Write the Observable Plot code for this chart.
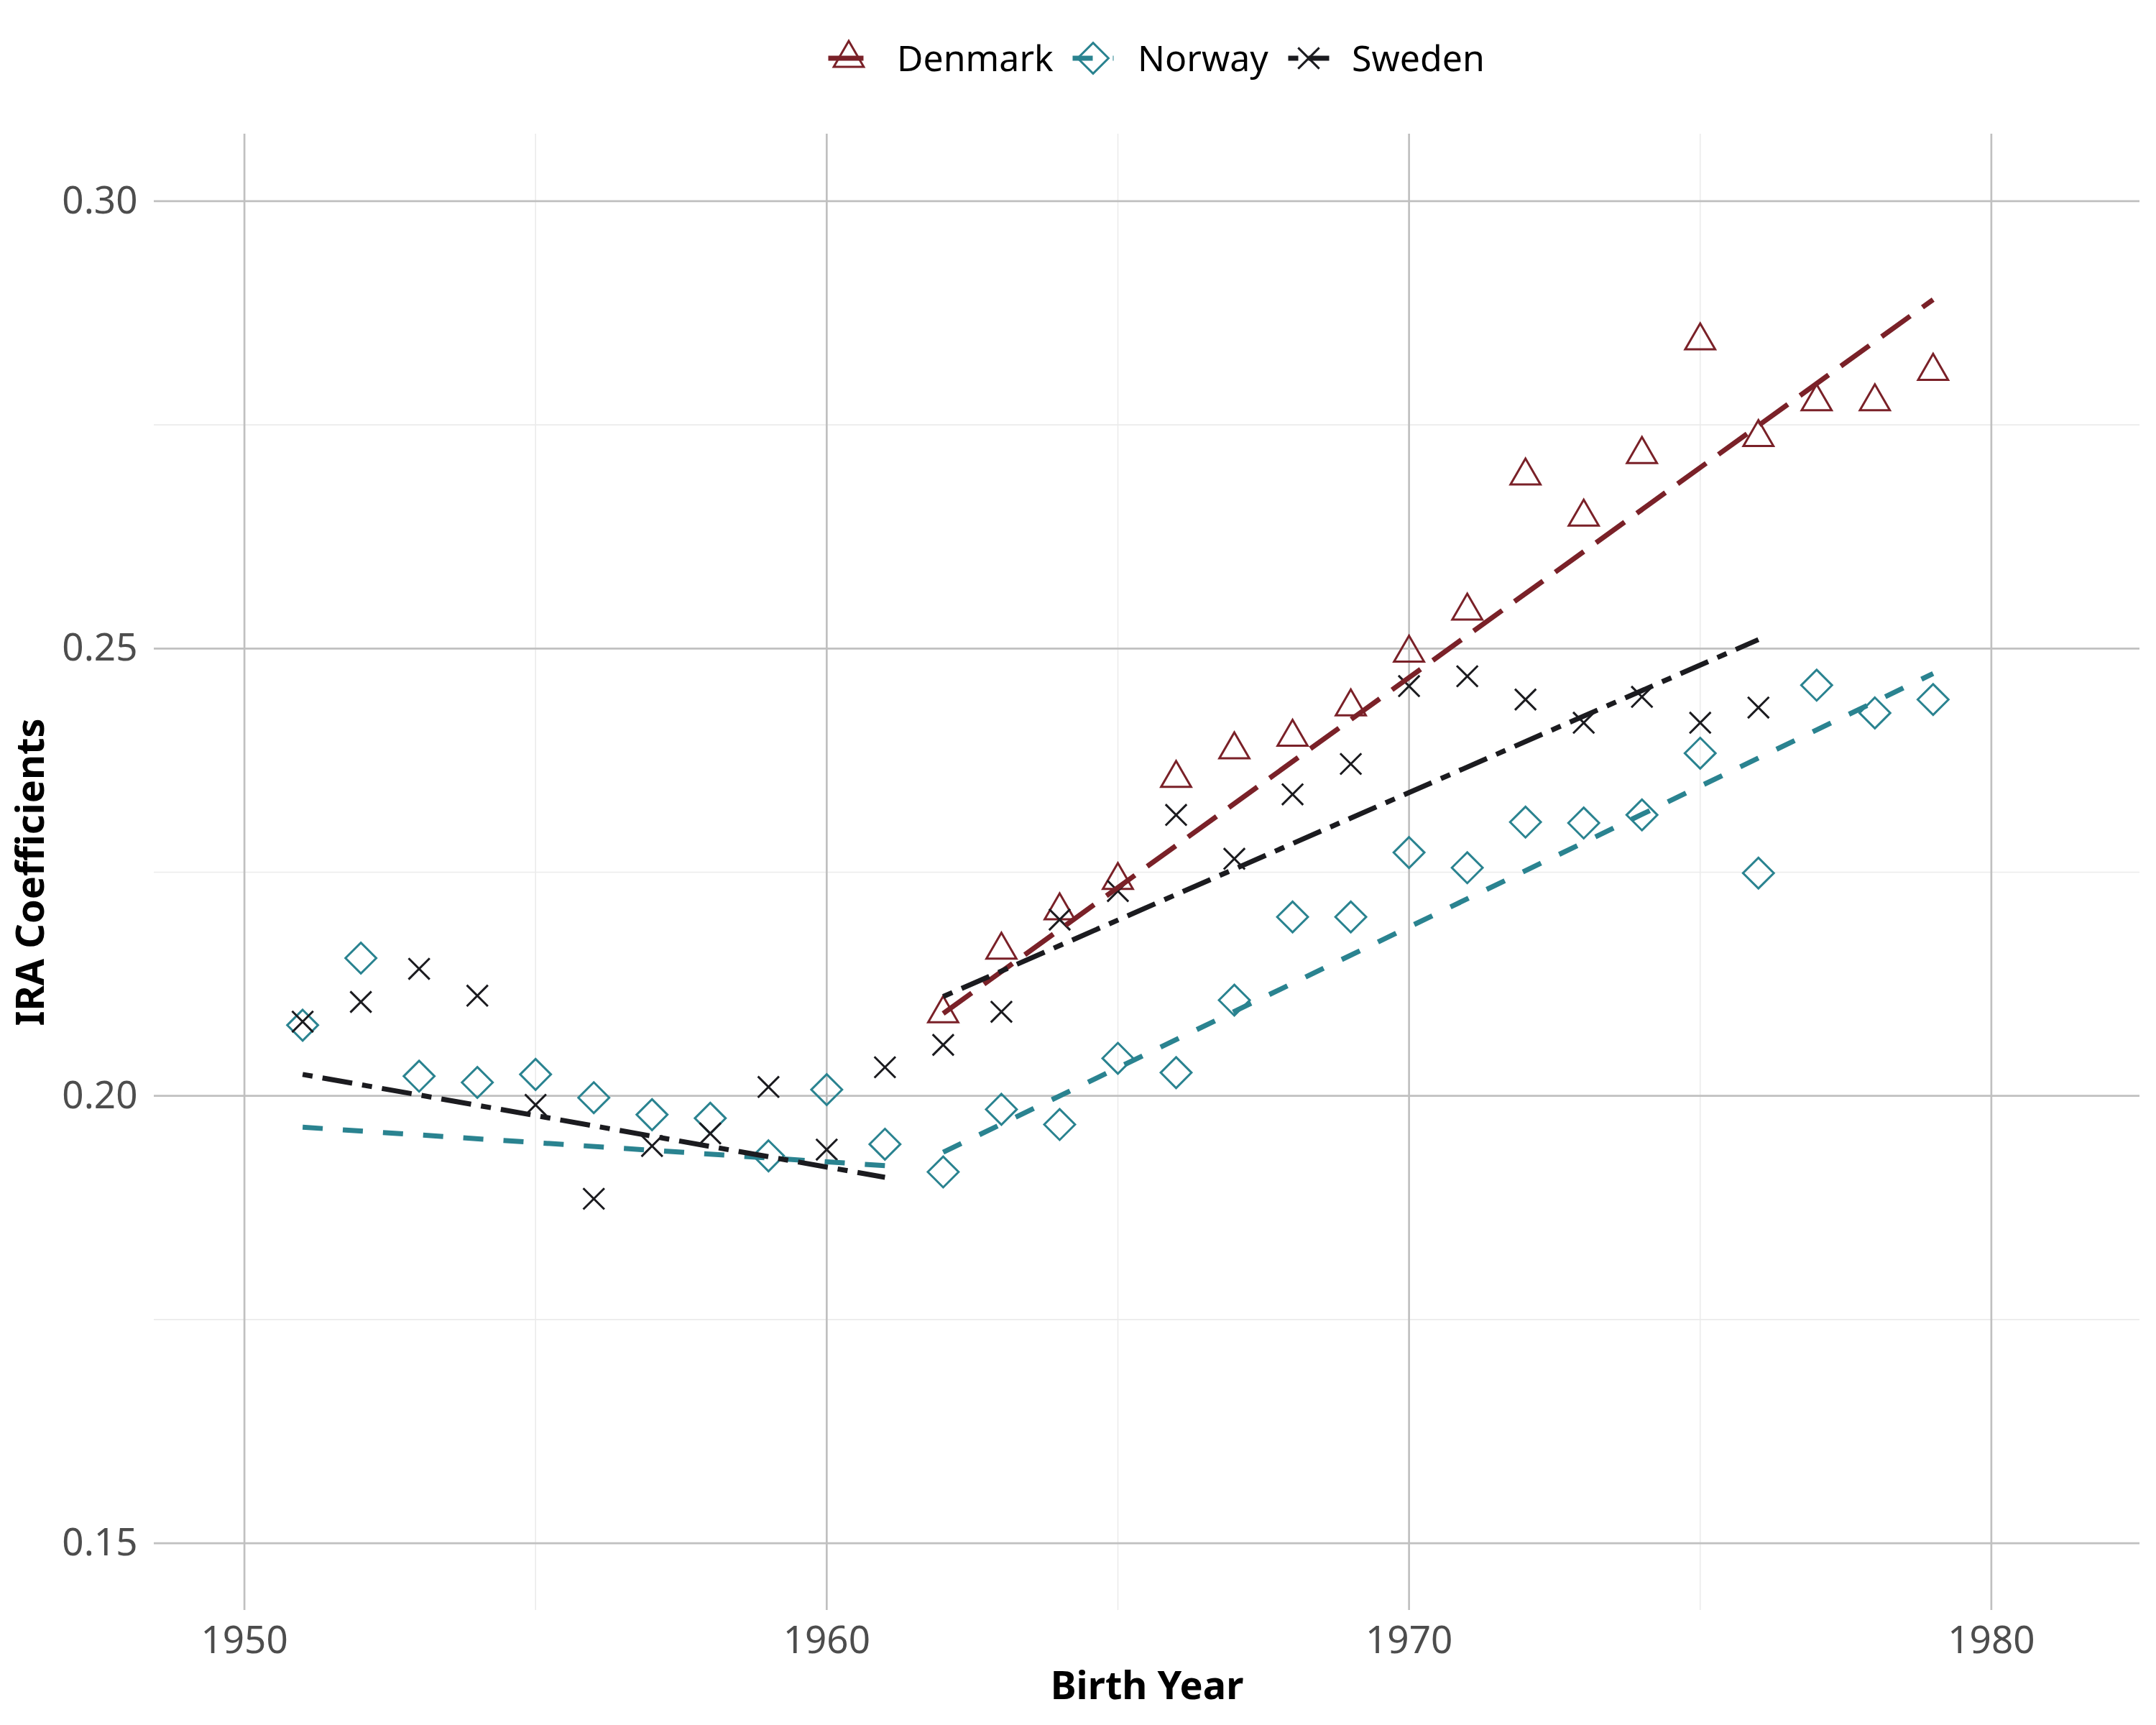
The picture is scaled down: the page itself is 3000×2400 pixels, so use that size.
<!DOCTYPE html>
<html>
<head>
<meta charset="utf-8">
<script src="https://cdn.jsdelivr.net/npm/d3@7"></script>
<script src="https://cdn.jsdelivr.net/npm/@observablehq/plot@0.6"></script>
<style>
  html, body { margin: 0; padding: 0; background: #ffffff; }
  #wrap { position: relative; width: 3000px; height: 2400px; font-family: "Noto Sans", sans-serif; }
  #legend { position: absolute; left: 0; top: 0; }
</style>
</head>
<body>
<div id="wrap"></div>
<script>
// ---------- data ----------
const countries = ["Denmark", "Norway", "Sweden"];
const countryColors = ["#7a2128", "#2a8390", "#1b1b1f"];

const denmarkYears = [1962, 1963, 1964, 1965, 1966, 1967, 1968, 1969, 1970, 1971, 1972, 1973, 1974, 1975, 1976, 1977, 1978, 1979];
const denmarkIRA   = [0.2092, 0.2163, 0.2207, 0.2241, 0.2355, 0.2387, 0.2401, 0.2435, 0.2495, 0.2542, 0.2693, 0.2647, 0.2717, 0.2844, 0.2736, 0.2776, 0.2776, 0.2810];

const norwayYears = [1951, 1952, 1953, 1954, 1955, 1956, 1957, 1958, 1959, 1960, 1961, 1962, 1963, 1964, 1965, 1966, 1967, 1968, 1969, 1970, 1971, 1972, 1973, 1974, 1975, 1976, 1977, 1978, 1979];
const norwayIRA   = [0.2079, 0.2154, 0.2022, 0.2015, 0.2024, 0.1998, 0.1979, 0.1975, 0.1933, 0.2007, 0.1946, 0.1915, 0.1985, 0.1968, 0.2042, 0.2026, 0.2107, 0.2200, 0.2200, 0.2272, 0.2255, 0.2306, 0.2305, 0.2314, 0.2383, 0.2249, 0.2459, 0.2428, 0.2443];

const swedenYears = [1951, 1952, 1953, 1954, 1955, 1956, 1957, 1958, 1959, 1960, 1961, 1962, 1963, 1964, 1965, 1966, 1967, 1968, 1969, 1970, 1971, 1972, 1973, 1974, 1975, 1976];
const swedenIRA   = [0.2083, 0.2105, 0.2142, 0.2112, 0.1990, 0.1885, 0.1944, 0.1958, 0.2010, 0.1940, 0.2032, 0.2057, 0.2094, 0.2197, 0.2229, 0.2314, 0.2265, 0.2337, 0.2371, 0.2458, 0.2469, 0.2443, 0.2417, 0.2446, 0.2417, 0.2434];

// fitted trend lines (pre / post 1962)
const denmarkFitYears  = [1962, 1979];
const denmarkFit       = [0.2092, 0.2890];
const denmarkFitPeriod = ["post", "post"];
const norwayFitYears   = [1951, 1961, 1962, 1979];
const norwayFit        = [0.1965, 0.1922, 0.1937, 0.2472];
const norwayFitPeriod  = ["pre", "pre", "post", "post"];
const swedenFitYears   = [1951, 1961, 1962, 1976];
const swedenFit        = [0.2024, 0.1909, 0.2111, 0.2510];
const swedenFitPeriod  = ["pre", "pre", "post", "post"];

const xTicks = [1950, 1960, 1970, 1980];
const xMinor = [1955, 1965, 1975];
const yTicks = [0.15, 0.20, 0.25, 0.30];
const yMinor = [0.175, 0.225, 0.275];
const xTitle = "Birth Year";
const yTitle = "IRA Coefficients";

// ---------- styling ----------
const symbols = ["triangle2", "diamond2", "times"];
const d3Symbols = [d3.symbolTriangle2, d3.symbolDiamond2, d3.symbolTimes];
const radii = [19.9, 19.3, 13.4];
const dashes = ["49,21", "28,28", "14,14,42,14"];
const LW = 7;

const pts = (years, vals) => years.map((y, i) => ({year: y, value: vals[i]}));
const fitRows = (years, vals, per) => years.map((y, i) => ({year: y, value: vals[i], period: per[i]}));

const pointSets = [pts(denmarkYears, denmarkIRA), pts(norwayYears, norwayIRA), pts(swedenYears, swedenIRA)];
const fitSets = [
  fitRows(denmarkFitYears, denmarkFit, denmarkFitPeriod),
  fitRows(norwayFitYears, norwayFit, norwayFitPeriod),
  fitRows(swedenFitYears, swedenFit, swedenFitPeriod)
];

const marks = [
  Plot.ruleX(xMinor, {stroke: "#ebebeb", strokeWidth: 1.6}),
  Plot.ruleY(yMinor, {stroke: "#ebebeb", strokeWidth: 1.6}),
  Plot.ruleX(xTicks, {stroke: "#c0c0c0", strokeWidth: 2.7}),
  Plot.ruleY(yTicks, {stroke: "#c0c0c0", strokeWidth: 2.7}),
  Plot.axisX(xTicks, {tickSize: 0, tickPadding: 22, fontSize: 53, fill: "#4d4d4d", tickFormat: d3.format("d"), label: null}),
  Plot.axisY(yTicks, {tickSize: 0, tickPadding: 23, fontSize: 53, fill: "#4d4d4d", tickFormat: d3.format(".2f"), label: null}),
  Plot.text([xTitle], {frameAnchor: "bottom", dy: 123, lineAnchor: "bottom", textAnchor: "middle", fontSize: 54, fontWeight: "bold", fill: "#000000", text: d => d}),
  Plot.text([yTitle], {frameAnchor: "left", dx: -192, rotate: -90, lineAnchor: "top", textAnchor: "middle", fontSize: 54, fontWeight: "bold", fill: "#000000", text: d => d})
];

countries.forEach((c, i) => {
  marks.push(Plot.dot(pointSets[i], {
    x: "year", y: "value", symbol: () => symbols[i], r: radii[i],
    stroke: countryColors[i], fill: "none", strokeWidth: 3
  }));
});
countries.forEach((c, i) => {
  marks.push(Plot.line(fitSets[i], {
    x: "year", y: "value", z: "period",
    stroke: countryColors[i], strokeWidth: LW, strokeDasharray: dashes[i],
    strokeLinecap: "butt", strokeLinejoin: "miter"
  }));
});

const chart = Plot.plot({
  width: 3000,
  height: 2400,
  marginTop: 186,
  marginBottom: 160,
  marginLeft: 214,
  marginRight: 23,
  x: {domain: [1948.45, 1982.55]},
  y: {domain: [0.1425, 0.3075]},
  symbol: {type: "identity"},
  style: {fontFamily: "Noto Sans", background: "#ffffff", overflow: "visible"},
  marks
});

const wrap = document.getElementById("wrap");
wrap.appendChild(chart);

// ---------- legend (above the panel) ----------
const keyCenters = [1181, 1521, 1821];
const textLefts = [1248, 1583, 1881];
const keyY = 81;
const keyW = 57;

const leg = d3.select(wrap).append("svg")
  .attr("id", "legend")
  .attr("width", 3000)
  .attr("height", 170);

countries.forEach((c, i) => {
  const g = leg.append("g");
  g.append("line")
    .attr("x1", keyCenters[i] - keyW / 2).attr("x2", keyCenters[i] + keyW / 2)
    .attr("y1", keyY).attr("y2", keyY)
    .attr("stroke", countryColors[i]).attr("stroke-width", LW)
    .attr("stroke-dasharray", dashes[i]).attr("stroke-linecap", "butt");
  g.append("path")
    .attr("transform", `translate(${keyCenters[i]},${keyY})`)
    .attr("d", d3.symbol().type(d3Symbols[i]).size(Math.PI * radii[i] * radii[i])())
    .attr("fill", "none").attr("stroke", countryColors[i]).attr("stroke-width", 3);
  g.append("text")
    .attr("x", textLefts[i]).attr("y", 99)
    .attr("font-family", "Noto Sans").attr("font-size", 50)
    .attr("fill", "#000000")
    .text(c);
});
</script>
</body>
</html>
